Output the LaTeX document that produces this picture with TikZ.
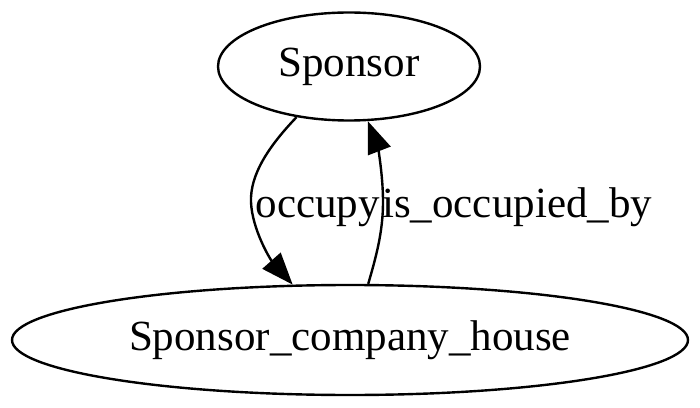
\documentclass[tikz,border=0pt]{standalone}
\usepackage{fontspec}
\setmainfont{Liberation Serif}
\usetikzlibrary{shapes.geometric,arrows.meta}
\begin{document}
\begin{tikzpicture}[x=1pt,y=1pt,
  gnode/.style={draw,ellipse,line width=2.4pt,inner sep=0pt,font=\fontsize{43}{50}\selectfont},
  glabel/.style={inner sep=0pt,font=\fontsize{43}{50}\selectfont},
  gedge/.style={line width=2.4pt,-{Triangle[length=32pt,width=24pt]}}]
\useasboundingbox (0,0) rectangle (700,407);
\node[gnode,minimum width=262pt,minimum height=108pt] (sp) at (349,340.5) {Sponsor};
\node[gnode,minimum width=676pt,minimum height=110pt] (sch) at (350,67) {Sponsor\_company\_house};
\node[glabel,anchor=base east] (l1) at (380,189) {occupy};
\node[glabel,anchor=base west] (l2) at (382,189) {is\_occupied\_by};
\draw[gedge] (sp.-136) .. controls (268,260) and (250,232) .. (251,205) .. controls (252,178) and (270,148) .. (sch.136);
\draw[gedge] (sch.72) .. controls (376,150) and (383,175) .. (383,205) .. controls (383,235) and (377,262) .. (sp.-71);
\end{tikzpicture}
\end{document}
